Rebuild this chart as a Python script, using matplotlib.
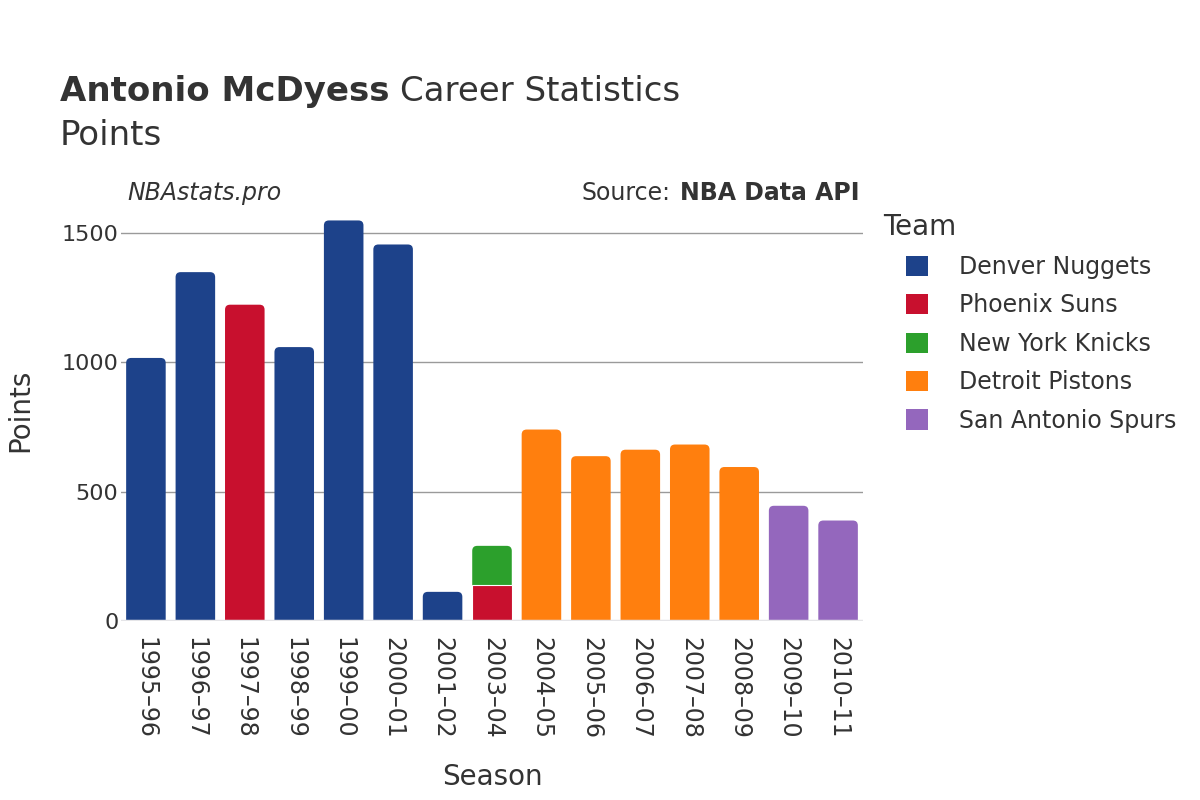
#!/usr/bin/env python3
import matplotlib
matplotlib.use("Agg")
import matplotlib.pyplot as plt
from matplotlib.patches import FancyBboxPatch, Patch
import numpy as np

seasons = ["1995\u201396", "1996\u201397", "1997\u201398", "1998\u201399", "1999\u201300",
           "2000\u201301", "2001\u201302", "2003\u201304", "2004\u201305", "2005\u201306",
           "2006\u201307", "2007\u201308", "2008\u201309", "2009\u201310", "2010\u201311"]
teams = ["Denver Nuggets", "Phoenix Suns", "New York Knicks", "Detroit Pistons", "San Antonio Spurs"]
team_colors = ["#1d428a", "#c8102e", "#2ca02c", "#ff7f0e", "#9467bd"]

denver  = [1017, 1349, 0, 1059, 1549, 1456, 112, 0, 0, 0, 0, 0, 0, 0, 0]
phoenix = [0, 0, 1223, 0, 0, 0, 0, 140, 0, 0, 0, 0, 0, 0, 0]
knicks  = [0, 0, 0, 0, 0, 0, 0, 150, 0, 0, 0, 0, 0, 0, 0]
detroit = [0, 0, 0, 0, 0, 0, 0, 0, 740, 637, 662, 682, 595, 0, 0]
spurs   = [0, 0, 0, 0, 0, 0, 0, 0, 0, 0, 0, 0, 0, 445, 388]
series = [denver, phoenix, knicks, detroit, spurs]

TEXT = "#333333"
plt.rcParams['font.family'] = ['DejaVu Sans']

fig = plt.figure(figsize=(12, 8), dpi=100)
ax = fig.add_axes([0.101, 0.224, 0.618, 0.525])

x = np.arange(len(seasons))
ymax = 1625
ax.set_xlim(-0.5, len(seasons) - 0.5)
ax.set_ylim(0, ymax)

# px per data unit, for the rounded bar tops
bbox = ax.get_position()
px_x = bbox.width * 1200 / len(seasons)
px_y = bbox.height * 800 / ymax
r_px = 5
rx = r_px / px_x
aspect = px_x / px_y

bottom = np.zeros(len(seasons))
totals = np.sum(series, axis=0)
for vals, col in zip(series, team_colors):
    vals = np.array(vals, dtype=float)
    for i, v in enumerate(vals):
        if v <= 0:
            continue
        b = bottom[i]
        if np.isclose(b + v, totals[i]):
            ext = r_px / px_y
            p = FancyBboxPatch((x[i] - 0.4, b - ext), 0.8, v + ext,
                               boxstyle="round,pad=0,rounding_size=%f" % rx,
                               mutation_aspect=aspect, fc=col, ec="none", zorder=2)
            ax.add_patch(p)
        else:
            ax.bar(x[i], v, 0.8, bottom=b, color=col, edgecolor="white",
                   linewidth=0.8, zorder=3)
    bottom += vals

ax.set_yticks([0, 500, 1000, 1500])
ax.set_yticklabels(["0", "500", "1000", "1500"])
ax.yaxis.grid(True, color="#9a9a9a", linewidth=1)
ax.set_axisbelow(True)
ax.axhline(0, color="#e5e5e8", linewidth=2.5, zorder=4)
for s in ax.spines.values():
    s.set_visible(False)
ax.tick_params(axis="both", length=0, colors=TEXT)
ax.tick_params(axis="y", pad=2, labelsize=16)
ax.tick_params(axis="x", pad=12, labelsize=17)
ax.set_xticks(x)
ax.set_xticklabels(seasons, rotation=-90)

ax.set_xlabel("Season", fontsize=20, color=TEXT, labelpad=17)
ax.set_ylabel("Points", fontsize=20, color=TEXT, labelpad=20)

# titles
fig.canvas.draw()
r = fig.canvas.get_renderer()
t1 = fig.text(0.05, 0.874, "Antonio McDyess", fontsize=24.5, fontweight="bold", color=TEXT)
ext = t1.get_window_extent(r)
fig.text((ext.x1 + 11) / 1200, 0.874, "Career Statistics", fontsize=24.5, color=TEXT)
fig.text(0.05, 0.819, "Points", fontsize=24.5, color=TEXT)

fig.text(0.106, 0.75, "NBAstats.pro", fontsize=17, style="italic", color=TEXT)
t2 = fig.text(860 / 1200, 0.75, "NBA Data API", fontsize=17, fontweight="bold",
              color=TEXT, ha="right")
ext2 = t2.get_window_extent(r)
fig.text((ext2.x0 - 10) / 1200, 0.75, "Source:", fontsize=17, color=TEXT, ha="right")

# legend
fig.text(883 / 1200, 0.706, "Team", fontsize=20, color=TEXT)
handles = [Patch(facecolor=c, edgecolor="none") for c in team_colors]
leg = fig.legend(handles, teams, loc="upper left", bbox_to_anchor=(906 / 1200, 1 - 255 / 800),
                 frameon=False, fontsize=17, handlelength=0.95, handleheight=0.95,
                 handletextpad=1.3, labelspacing=0.61, borderaxespad=0, borderpad=0)
for t in leg.get_texts():
    t.set_color(TEXT)

fig.savefig("out.png", dpi=100)
